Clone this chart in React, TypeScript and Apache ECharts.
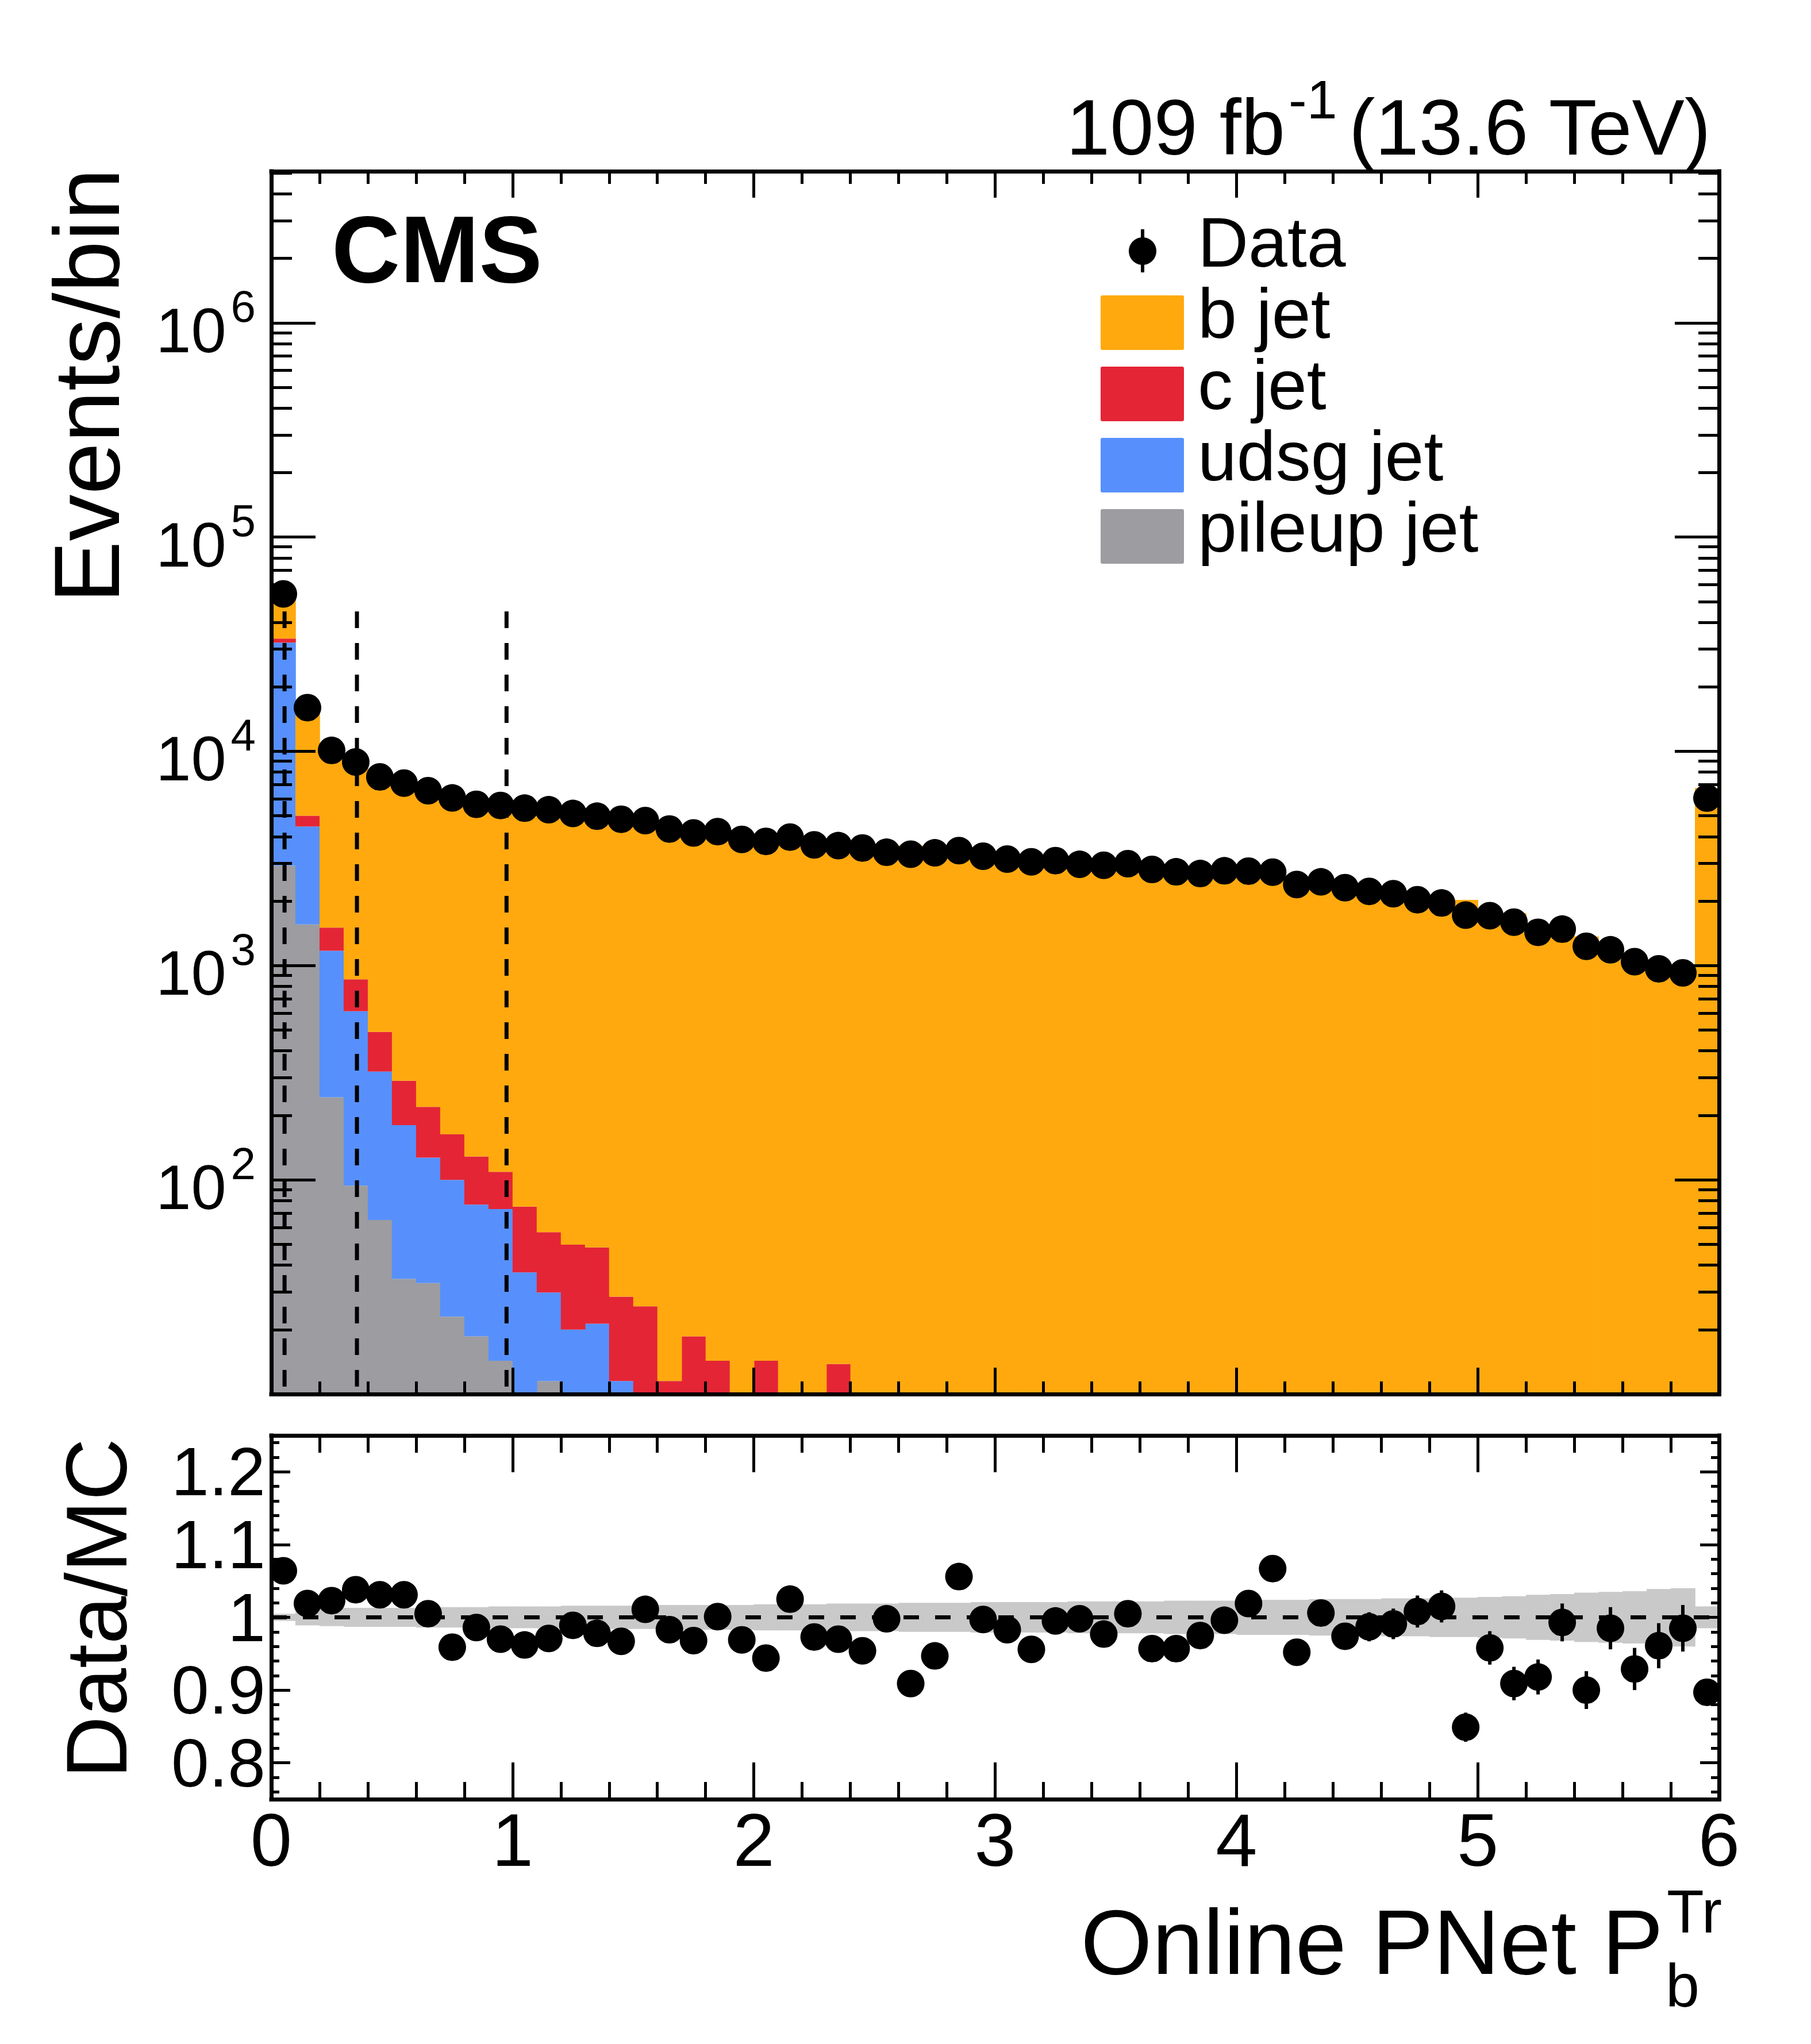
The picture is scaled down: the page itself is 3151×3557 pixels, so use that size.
import React, { useEffect, useRef } from 'react';
import * as echarts from 'echarts';

// 60 bins of width 0.1 between 0 and 6
const BIN_WIDTH = 0.1;
const X_MIN = 0;
const X_MAX = 6;

const dataEvents = [
  54300, 16000, 10100, 8920, 7600, 7110, 6550, 6060, 5660, 5590,
  5430, 5340, 5130, 4980, 4820, 4750, 4340, 4160, 4220, 3880,
  3800, 3980, 3660, 3630, 3540, 3380, 3310, 3360, 3440, 3240,
  3140, 3050, 3090, 2970, 2940, 2990, 2810, 2740, 2690, 2770,
  2760, 2730, 2390, 2460, 2310, 2220, 2165, 2030, 1960, 1720,
  1710, 1595, 1430, 1480, 1230, 1185, 1043, 966, 925, 6050,
];

const bJet = [
  17400, 10690, 8370, 7730, 6880, 6606, 6298, 6156, 5612, 5654,
  5569, 5443, 5137, 5044, 4956, 4673, 4404, 4279, 4202, 3996,
  4011, 3876, 3755, 3728, 3705, 3382, 3636, 3544, 3254, 3248,
  3194, 3190, 3106, 2976, 3009, 2975, 2936, 2863, 2759, 2781,
  2709, 2559, 2511, 2445, 2372, 2249, 2185, 2014, 1931, 2026,
  1785, 1755, 1558, 1490, 1367, 1203, 1123, 1005, 939, 6745,
];

const cJet = [
  1400, 554, 331, 251, 170, 110, 92, 63, 52, 36,
  38, 27.2, 29.8, 27.1, 17, 18.7, 7.5, 15.6, 11.3, 5,
  11.3, 5, 5, 11.8, 4, 2, 2, 1, 1, 1,
  0, 0, 0, 0, 0, 0, 0, 0, 0, 0,
  0, 0, 0, 0, 0, 0, 0, 0, 0, 0,
  0, 0, 0, 0, 0, 0, 0, 0, 0, 0,
];

const udsgJet = [
  29270, 2900, 929, 518, 255, 145.5, 94, 77, 58, 58.7,
  31, 18.3, 15, 16.3, 8.5, 5, 3, 2, 2, 2,
  2, 1.5, 1.5, 1.5, 1, 1, 0.5, 0.5, 0.5, 0.5,
  0, 0, 0, 0, 0, 0, 0, 0, 0, 0,
  0, 0, 0, 0, 0, 0, 0, 0, 0, 0,
  0, 0, 0, 0, 0, 0, 0, 0, 0, 0,
];

const pileupJet = [
  2930, 1556, 243, 94, 65, 34.5, 33, 23, 18.6, 14.3,
  6, 11.5, 5, 5, 3, 2, 1, 1, 1, 1,
  1, 0.5, 0.5, 0.5, 0.5, 0, 0, 0, 0, 0,
  0, 0, 0, 0, 0, 0, 0, 0, 0, 0,
  0, 0, 0, 0, 0, 0, 0, 0, 0, 0,
  0, 0, 0, 0, 0, 0, 0, 0, 0, 0,
];

const ratioValues = [
  1.064, 1.019, 1.023, 1.038, 1.031, 1.031, 1.005, 0.959, 0.986, 0.970,
  0.962, 0.971, 0.989, 0.978, 0.967, 1.011, 0.983, 0.968, 1.001, 0.969,
  0.944, 1.025, 0.973, 0.970, 0.954, 0.998, 0.909, 0.947, 1.056, 0.997,
  0.983, 0.956, 0.995, 0.998, 0.977, 1.005, 0.957, 0.957, 0.975, 0.996,
  1.019, 1.067, 0.952, 1.006, 0.974, 0.987, 0.991, 1.008, 1.015, 0.849,
  0.958, 0.909, 0.918, 0.993, 0.900, 0.985, 0.929, 0.961, 0.985, 0.897,
];

const ratioErrors = [
  0.005, 0.008, 0.009, 0.010, 0.010, 0.011, 0.011, 0.011, 0.012, 0.012,
  0.012, 0.012, 0.012, 0.012, 0.012, 0.012, 0.012, 0.012, 0.012, 0.012,
  0.012, 0.012, 0.013, 0.013, 0.013, 0.013, 0.013, 0.013, 0.013, 0.013,
  0.014, 0.014, 0.014, 0.014, 0.014, 0.014, 0.014, 0.014, 0.014, 0.014,
  0.014, 0.016, 0.017, 0.017, 0.017, 0.020, 0.021, 0.022, 0.022, 0.020,
  0.023, 0.023, 0.024, 0.026, 0.026, 0.029, 0.029, 0.031, 0.032, 0.012,
];

// relative MC statistical uncertainty (grey band)
const mcUncertainty = [
  0.005, 0.011, 0.012, 0.013, 0.013, 0.013, 0.014, 0.014, 0.014, 0.015,
  0.015, 0.015, 0.016, 0.016, 0.016, 0.016, 0.017, 0.017, 0.017, 0.017,
  0.018, 0.018, 0.018, 0.019, 0.019, 0.019, 0.020, 0.020, 0.020, 0.021,
  0.021, 0.021, 0.021, 0.022, 0.022, 0.022, 0.022, 0.023, 0.023, 0.023,
  0.024, 0.024, 0.024, 0.025, 0.025, 0.025, 0.026, 0.026, 0.027, 0.027,
  0.028, 0.029, 0.031, 0.032, 0.034, 0.035, 0.036, 0.039, 0.040, 0.015,
];

const workingPoints = [0.055, 0.355, 0.975];
const WP_LINE_TOP = 45000;

const logMajorTicks = [1e2, 1e3, 1e4, 1e5, 1e6];
const logDecades = [10, 100, 1000, 1e4, 1e5, 1e6];
const logMultipliers = [2, 3, 4, 5, 6, 7, 8, 9];
const ratioMajorTicks = [0.8, 0.9, 1, 1.1, 1.2];
const ratioMinorTicks = [
  0.76, 0.78, 0.82, 0.84, 0.86, 0.88, 0.92, 0.94, 0.96, 0.98,
  1.02, 1.04, 1.06, 1.08, 1.12, 1.14, 1.16, 1.18, 1.22, 1.24,
];

const legendItems = ['Data', 'b jet', 'c jet', 'udsg jet', 'pileup jet'];

const Y_MIN = 10;
const Y_MAX = 5.1e6;
const R_MIN = 0.75;
const R_MAX = 1.25;

const COLORS = {
  b: '#ffa90e',
  c: '#e42536',
  udsg: '#5790fc',
  pileup: '#9c9ca1',
  band: '#c9c9c9',
};

const FONT = '"Liberation Sans", Arial, Helvetica, sans-serif';
const BLACK = '#000000';

const MAIN_GRID = { left: 472, top: 298, width: 2519, height: 2128 };
const RATIO_GRID = { left: 472, top: 2498, width: 2519, height: 633 };

const logMinorTicks: number[] = [];
logDecades.forEach((d) => logMultipliers.forEach((m) => logMinorTicks.push(d * m)));

const binCenter = (i: number) => X_MIN + (i + 0.5) * BIN_WIDTH;

const tickStyle = () => ({ color: BLACK, width: 5 });
const frameLine = (show: boolean) => ({
  show,
  onZero: false,
  lineStyle: { color: BLACK, width: 7, cap: 'square' },
});

function xAxisDef(gridIndex: number, position: string, major: number, minor: number, labels: boolean) {
  return {
    type: 'value',
    gridIndex,
    position,
    min: X_MIN,
    max: X_MAX,
    interval: 1,
    z: 10,
    axisLine: frameLine(true),
    axisTick: { show: true, inside: true, length: major, lineStyle: tickStyle() },
    minorTick: { show: true, splitNumber: 5, length: minor, lineStyle: tickStyle() },
    splitLine: { show: false },
    minorSplitLine: { show: false },
    axisLabel: labels
      ? { show: true, fontSize: 130, fontFamily: FONT, color: BLACK, margin: 6 }
      : { show: false },
  };
}

function logAxisDef(position: string, ticks: number[], length: number, withLine: boolean, withLabels: boolean) {
  return {
    type: 'log',
    logBase: 10,
    gridIndex: 0,
    position,
    min: Y_MIN,
    max: Y_MAX,
    z: 10,
    axisLine: frameLine(withLine),
    axisTick: { show: true, inside: true, length, customValues: ticks, lineStyle: tickStyle() },
    minorTick: { show: false },
    splitLine: { show: false },
    axisLabel: withLabels
      ? {
          show: true,
          customValues: logMajorTicks,
          margin: 27,
          formatter: (v: number) => `{b|10}{s|${Math.round(Math.log10(v))}}`,
          rich: {
            b: { fontSize: 110, fontFamily: FONT, color: BLACK, verticalAlign: 'bottom', padding: [25, 0, 0, 0] },
            s: { fontSize: 78, fontFamily: FONT, color: BLACK, verticalAlign: 'top', padding: [0, 0, 0, 8] },
          },
        }
      : { show: false },
  };
}

function ratioAxisDef(position: string, ticks: number[], length: number, withLine: boolean, withLabels: boolean) {
  return {
    type: 'value',
    gridIndex: 1,
    position,
    min: R_MIN,
    max: R_MAX,
    z: 10,
    axisLine: frameLine(withLine),
    axisTick: { show: true, inside: true, length, customValues: ticks, lineStyle: tickStyle() },
    minorTick: { show: false },
    splitLine: { show: false },
    axisLabel: withLabels
      ? {
          show: true,
          customValues: ratioMajorTicks,
          fontSize: 118,
          fontFamily: FONT,
          color: BLACK,
          margin: 10,
          formatter: (v: number) => String(Math.round(v * 10) / 10),
        }
      : { show: false },
  };
}

const font = (size: number, weight = 'normal') => `${weight} ${size}px ${FONT}`;

function textEl(text: string, x: number, y: number, size: number, align: string, extra: any = {}) {
  return {
    type: 'text',
    x,
    y,
    z: 30,
    ...extra,
    style: {
      text,
      font: font(size, extra.weight || 'normal'),
      fill: BLACK,
      align,
      textAlign: align,
      verticalAlign: 'middle',
      textVerticalAlign: 'middle',
    },
  };
}

export default function App() {
  const chartRef = useRef<HTMLDivElement | null>(null);

  useEffect(() => {
    document.body.style.margin = '0';
    if (!chartRef.current) return;
    const chart = echarts.init(chartRef.current, null, { renderer: 'svg' });

    // stacked histogram, from bottom to top
    const components = [
      { name: 'pileup jet', values: pileupJet, color: COLORS.pileup },
      { name: 'udsg jet', values: udsgJet, color: COLORS.udsg },
      { name: 'c jet', values: cJet, color: COLORS.c },
      { name: 'b jet', values: bJet, color: COLORS.b },
    ];
    const cumulative = dataEvents.map(() => 0);
    const histSeries = components.map((comp) => {
      const rows: number[][] = [];
      comp.values.forEach((v, i) => {
        const lo = cumulative[i];
        const hi = lo + v;
        cumulative[i] = hi;
        if (hi > Y_MIN) rows.push([X_MIN + i * BIN_WIDTH, X_MIN + (i + 1) * BIN_WIDTH, lo, hi]);
      });
      return {
        type: 'custom',
        name: comp.name,
        xAxisIndex: 0,
        yAxisIndex: 0,
        z: 2,
        silent: true,
        encode: { x: [0, 1], y: 3 },
        data: rows,
        renderItem: (_params: any, api: any) => {
          const lo = Math.max(api.value(2), Y_MIN);
          const p0 = api.coord([api.value(0), lo]);
          const p1 = api.coord([api.value(1), api.value(3)]);
          return {
            type: 'rect',
            shape: { x: p0[0], y: p1[1], width: p1[0] - p0[0] + 0.8, height: p0[1] - p1[1] },
            style: { fill: comp.color },
          };
        },
      };
    });

    const wpSeries = workingPoints.map((wp) => ({
      type: 'line',
      xAxisIndex: 0,
      yAxisIndex: 0,
      z: 3,
      silent: true,
      symbol: 'none',
      data: [
        [wp, WP_LINE_TOP],
        [wp, Y_MIN],
      ],
      lineStyle: { color: BLACK, width: 7, type: [29, 26] },
    }));

    // legend, drawn ROOT-style in the upper right of the main pad
    const legendColors = [null, COLORS.b, COLORS.c, COLORS.udsg, COLORS.pileup];
    const legendGraphics: any[] = [];
    legendItems.forEach((label, k) => {
      const cy = 437 + k * 124;
      const color = legendColors[k];
      if (color) {
        legendGraphics.push({
          type: 'rect',
          z: 30,
          shape: { x: 1915, y: cy - 47, width: 145, height: 95, r: 3 },
          style: { fill: color },
        });
      } else {
        legendGraphics.push({
          type: 'line',
          z: 30,
          shape: { x1: 1988, y1: cy - 38, x2: 1988, y2: cy + 37 },
          style: { stroke: BLACK, lineWidth: 6 },
        });
        legendGraphics.push({ type: 'circle', z: 30, shape: { cx: 1988, cy, r: 24 }, style: { fill: BLACK } });
      }
      legendGraphics.push(textEl(label, 2084, cy - 15, 122, 'left'));
    });

    const option: any = {
      animation: false,
      backgroundColor: '#ffffff',
      textStyle: { fontFamily: FONT },
      grid: [
        { ...MAIN_GRID, containLabel: false },
        { ...RATIO_GRID, containLabel: false },
      ],
      xAxis: [
        xAxisDef(0, 'bottom', 46, 22, false),
        xAxisDef(0, 'top', 46, 22, false),
        xAxisDef(1, 'bottom', 64, 30, true),
        xAxisDef(1, 'top', 64, 30, false),
      ],
      yAxis: [
        logAxisDef('left', logMajorTicks, 77, true, true),
        logAxisDef('left', logMinorTicks, 36, false, false),
        logAxisDef('right', logMajorTicks, 77, true, false),
        logAxisDef('right', logMinorTicks, 36, false, false),
        ratioAxisDef('left', ratioMajorTicks, 33, true, true),
        ratioAxisDef('left', ratioMinorTicks, 14, false, false),
        ratioAxisDef('right', ratioMajorTicks, 33, true, false),
        ratioAxisDef('right', ratioMinorTicks, 14, false, false),
      ],
      series: [
        ...histSeries,
        ...wpSeries,
        {
          type: 'scatter',
          name: 'Data',
          xAxisIndex: 0,
          yAxisIndex: 0,
          z: 5,
          clip: false,
          silent: true,
          symbol: 'circle',
          symbolSize: 48,
          itemStyle: { color: BLACK, opacity: 1 },
          data: dataEvents.map((v, i) => [binCenter(i), v]),
        },
        {
          type: 'custom',
          name: 'MC uncertainty',
          xAxisIndex: 2,
          yAxisIndex: 4,
          z: 2,
          silent: true,
          encode: { x: [0, 1], y: [2, 3] },
          data: mcUncertainty.map((e, i) => [X_MIN + i * BIN_WIDTH, X_MIN + (i + 1) * BIN_WIDTH, 1 - e, 1 + e]),
          renderItem: (_params: any, api: any) => {
            const p0 = api.coord([api.value(0), api.value(2)]);
            const p1 = api.coord([api.value(1), api.value(3)]);
            return {
              type: 'rect',
              shape: { x: p0[0], y: p1[1], width: p1[0] - p0[0] + 0.8, height: p0[1] - p1[1] },
              style: { fill: COLORS.band },
            };
          },
        },
        {
          type: 'line',
          xAxisIndex: 2,
          yAxisIndex: 4,
          z: 3,
          silent: true,
          symbol: 'none',
          data: [
            [X_MIN, 1],
            [X_MAX, 1],
          ],
          lineStyle: { color: BLACK, width: 7, type: [27, 28] },
        },
        {
          type: 'custom',
          name: 'Ratio errors',
          xAxisIndex: 2,
          yAxisIndex: 4,
          z: 4,
          silent: true,
          encode: { x: 0, y: [1, 2] },
          data: ratioValues.map((r, i) => [binCenter(i), r - ratioErrors[i], r + ratioErrors[i]]),
          renderItem: (_params: any, api: any) => {
            const p0 = api.coord([api.value(0), api.value(1)]);
            const p1 = api.coord([api.value(0), api.value(2)]);
            return {
              type: 'line',
              shape: { x1: p0[0], y1: p0[1], x2: p1[0], y2: p1[1] },
              style: { stroke: BLACK, lineWidth: 6 },
            };
          },
        },
        {
          type: 'scatter',
          name: 'Data/MC',
          xAxisIndex: 2,
          yAxisIndex: 4,
          z: 5,
          clip: false,
          silent: true,
          symbol: 'circle',
          symbolSize: 48,
          itemStyle: { color: BLACK, opacity: 1 },
          data: ratioValues.map((r, i) => [binCenter(i), r]),
        },
      ],
      graphic: [
        // luminosity label
        textEl('109 fb', 2236, 221, 137, 'right'),
        textEl('-1', 2242, 173, 95, 'left'),
        textEl('(13.6 TeV)', 2347, 221, 137, 'left'),
        // CMS
        textEl('CMS', 577, 434, 165, 'left', { weight: 'bold' }),
        // axis titles
        textEl('Events/bin', 150, 293, 162, 'right', { rotation: Math.PI / 2 }),
        textEl('Data/MC', 168, 2503, 150, 'right', { rotation: Math.PI / 2 }),
        textEl('Online PNet P', 2894, 3379, 160, 'right'),
        textEl('Tr', 2900, 3326, 106, 'left'),
        textEl('b', 2898, 3455, 106, 'left'),
        ...legendGraphics,
      ],
    };

    chart.setOption(option);

    return () => {
      chart.dispose();
    };
  }, []);

  return (
    <div
      ref={chartRef}
      style={{ width: '3151px', height: '3557px', position: 'absolute', left: 0, top: 0 }}
    />
  );
}
